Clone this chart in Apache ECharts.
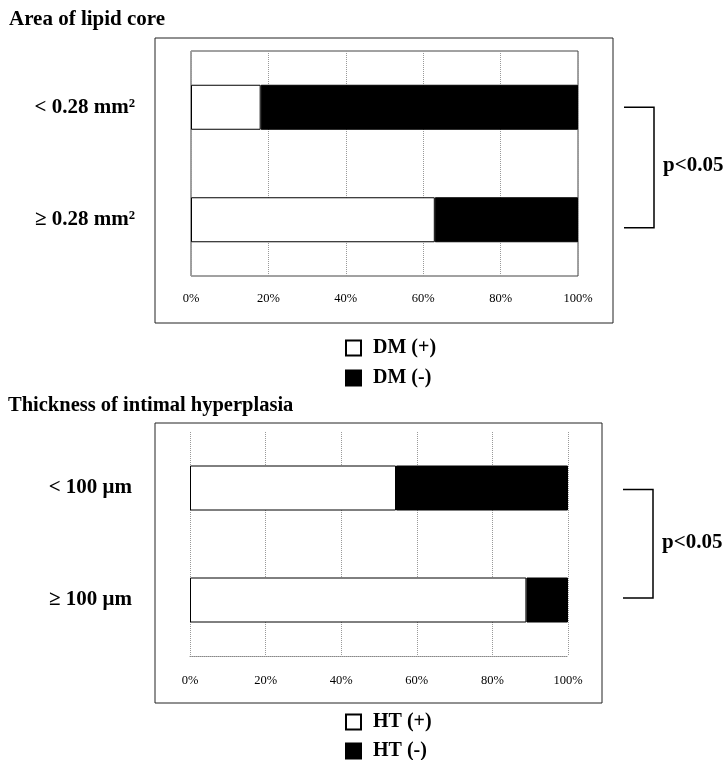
<!DOCTYPE html>
<html>
<head>
<meta charset="utf-8">
<script src="https://cdn.jsdelivr.net/npm/echarts@6/dist/echarts.min.js"></script>
<style>html,body{margin:0;padding:0;background:#fff;}#chart{width:725px;height:760px;}</style>
</head>
<body>
<div id="chart"></div>
<script>
var categoriesTop = ['< 0.28 mm²', '≥ 0.28 mm²'];
var dmPos = [18, 63];
var dmNeg = [82, 37];
var categoriesBottom = ['< 100 μm', '≥ 100 μm'];
var htPos = [54.5, 89];
var htNeg = [45.5, 11];
var tickLabels = ['0%', '20%', '40%', '60%', '80%', '100%'];
var pText = 'p<0.05';

var FONT = '"Liberation Serif", "DejaVu Serif", serif';
var chart = echarts.init(document.getElementById('chart'));

function xAxisCfg(gi, margin) {
  return {
    type: 'value', gridIndex: gi, min: 0, max: 100, interval: 20,
    axisLine: { show: gi === 1, lineStyle: { color: '#888', type: 'dotted' } },
    axisTick: { show: false },
    axisLabel: { margin: margin, color: '#000', fontFamily: FONT, fontSize: 12.5,
      formatter: function (v) { return tickLabels[v / 20]; } },
    splitLine: { show: true, lineStyle: { color: '#999', type: 'dotted', width: 1 } }
  };
}
function yAxisCfg(gi, cats, margin) {
  return {
    type: 'category', gridIndex: gi, data: cats, inverse: true,
    axisLine: { show: false }, axisTick: { show: false },
    axisLabel: { margin: margin, color: '#000', fontFamily: FONT, fontSize: 21, fontWeight: 'bold' }
  };
}
function barSeries(name, data, gi, color) {
  return {
    name: name, type: 'bar', stack: 's' + gi, xAxisIndex: gi, yAxisIndex: gi,
    data: data, barWidth: 45, animation: false,
    itemStyle: { color: color, borderColor: '#000', borderWidth: 1 }
  };
}
function legendItem(name, top) {
  return {
    data: [name], orient: 'vertical', left: 345, top: top, padding: 0,
    itemWidth: 15, itemHeight: 15, icon: 'rect', selectedMode: false,
    textStyle: { fontFamily: FONT, fontSize: 20, fontWeight: 'bold', color: '#000', padding: [0, 0, 0, 7] }
  };
}

chart.setOption({
  animation: false,
  backgroundColor: '#fff',
  title: [
    { text: 'Area of lipid core', left: 9, top: 9, padding: 0,
      textStyle: { fontFamily: FONT, fontSize: 21, fontWeight: 'bold', color: '#000' } },
    { text: 'Thickness of intimal hyperplasia', left: 8, top: 395, padding: 0,
      textStyle: { fontFamily: FONT, fontSize: 20.5, fontWeight: 'bold', color: '#000' } }
  ],
  grid: [
    { left: 191, top: 51, width: 387, height: 225, show: true, borderColor: '#444', borderWidth: 1 },
    { left: 190, top: 432, width: 378, height: 224 }
  ],
  xAxis: [xAxisCfg(0, 16), xAxisCfg(1, 18)],
  yAxis: [yAxisCfg(0, categoriesTop, 56), yAxisCfg(1, categoriesBottom, 58)],
  legend: [
    legendItem('DM (+)', 338),
    legendItem('DM (-)', 368),
    legendItem('HT (+)', 712),
    legendItem('HT (-)', 741)
  ],
  series: [
    barSeries('DM (+)', dmPos, 0, '#fff'),
    barSeries('DM (-)', dmNeg, 0, '#000'),
    barSeries('HT (+)', htPos, 1, '#fff'),
    barSeries('HT (-)', htNeg, 1, '#000')
  ]
});

function bracket(gi, cats, x1, x2, off1, off2) {
  var p1 = chart.convertToPixel({ gridIndex: gi }, [0, cats[0]]);
  var p2 = chart.convertToPixel({ gridIndex: gi }, [0, cats[1]]);
  var ya = p1[1] + off1, yb = p2[1] + off2;
  return [
    { type: 'polyline', silent: true,
      shape: { points: [[x1, ya], [x2, ya], [x2, yb], [x1, yb]] },
      style: { stroke: '#000', lineWidth: 1.5, fill: null } },
    { type: 'text', silent: true, left: x2 + 9, top: (ya + yb) / 2 - 12,
      style: { text: pText, fontFamily: FONT, fontSize: 21, fontWeight: 'bold', fill: '#000' } }
  ];
}

var g = [
  { type: 'rect', silent: true, z: -1, shape: { x: 155, y: 38, width: 458, height: 285 },
    style: { stroke: '#222', lineWidth: 1, fill: null } },
  { type: 'rect', silent: true, z: -1, shape: { x: 155, y: 423, width: 447, height: 280 },
    style: { stroke: '#222', lineWidth: 1, fill: null } }
];
g = g.concat(bracket(0, categoriesTop, 624, 654, 0, 8));
g = g.concat(bracket(1, categoriesBottom, 623, 653, 1.5, -2));
chart.setOption({ graphic: g });
</script>
</body>
</html>
